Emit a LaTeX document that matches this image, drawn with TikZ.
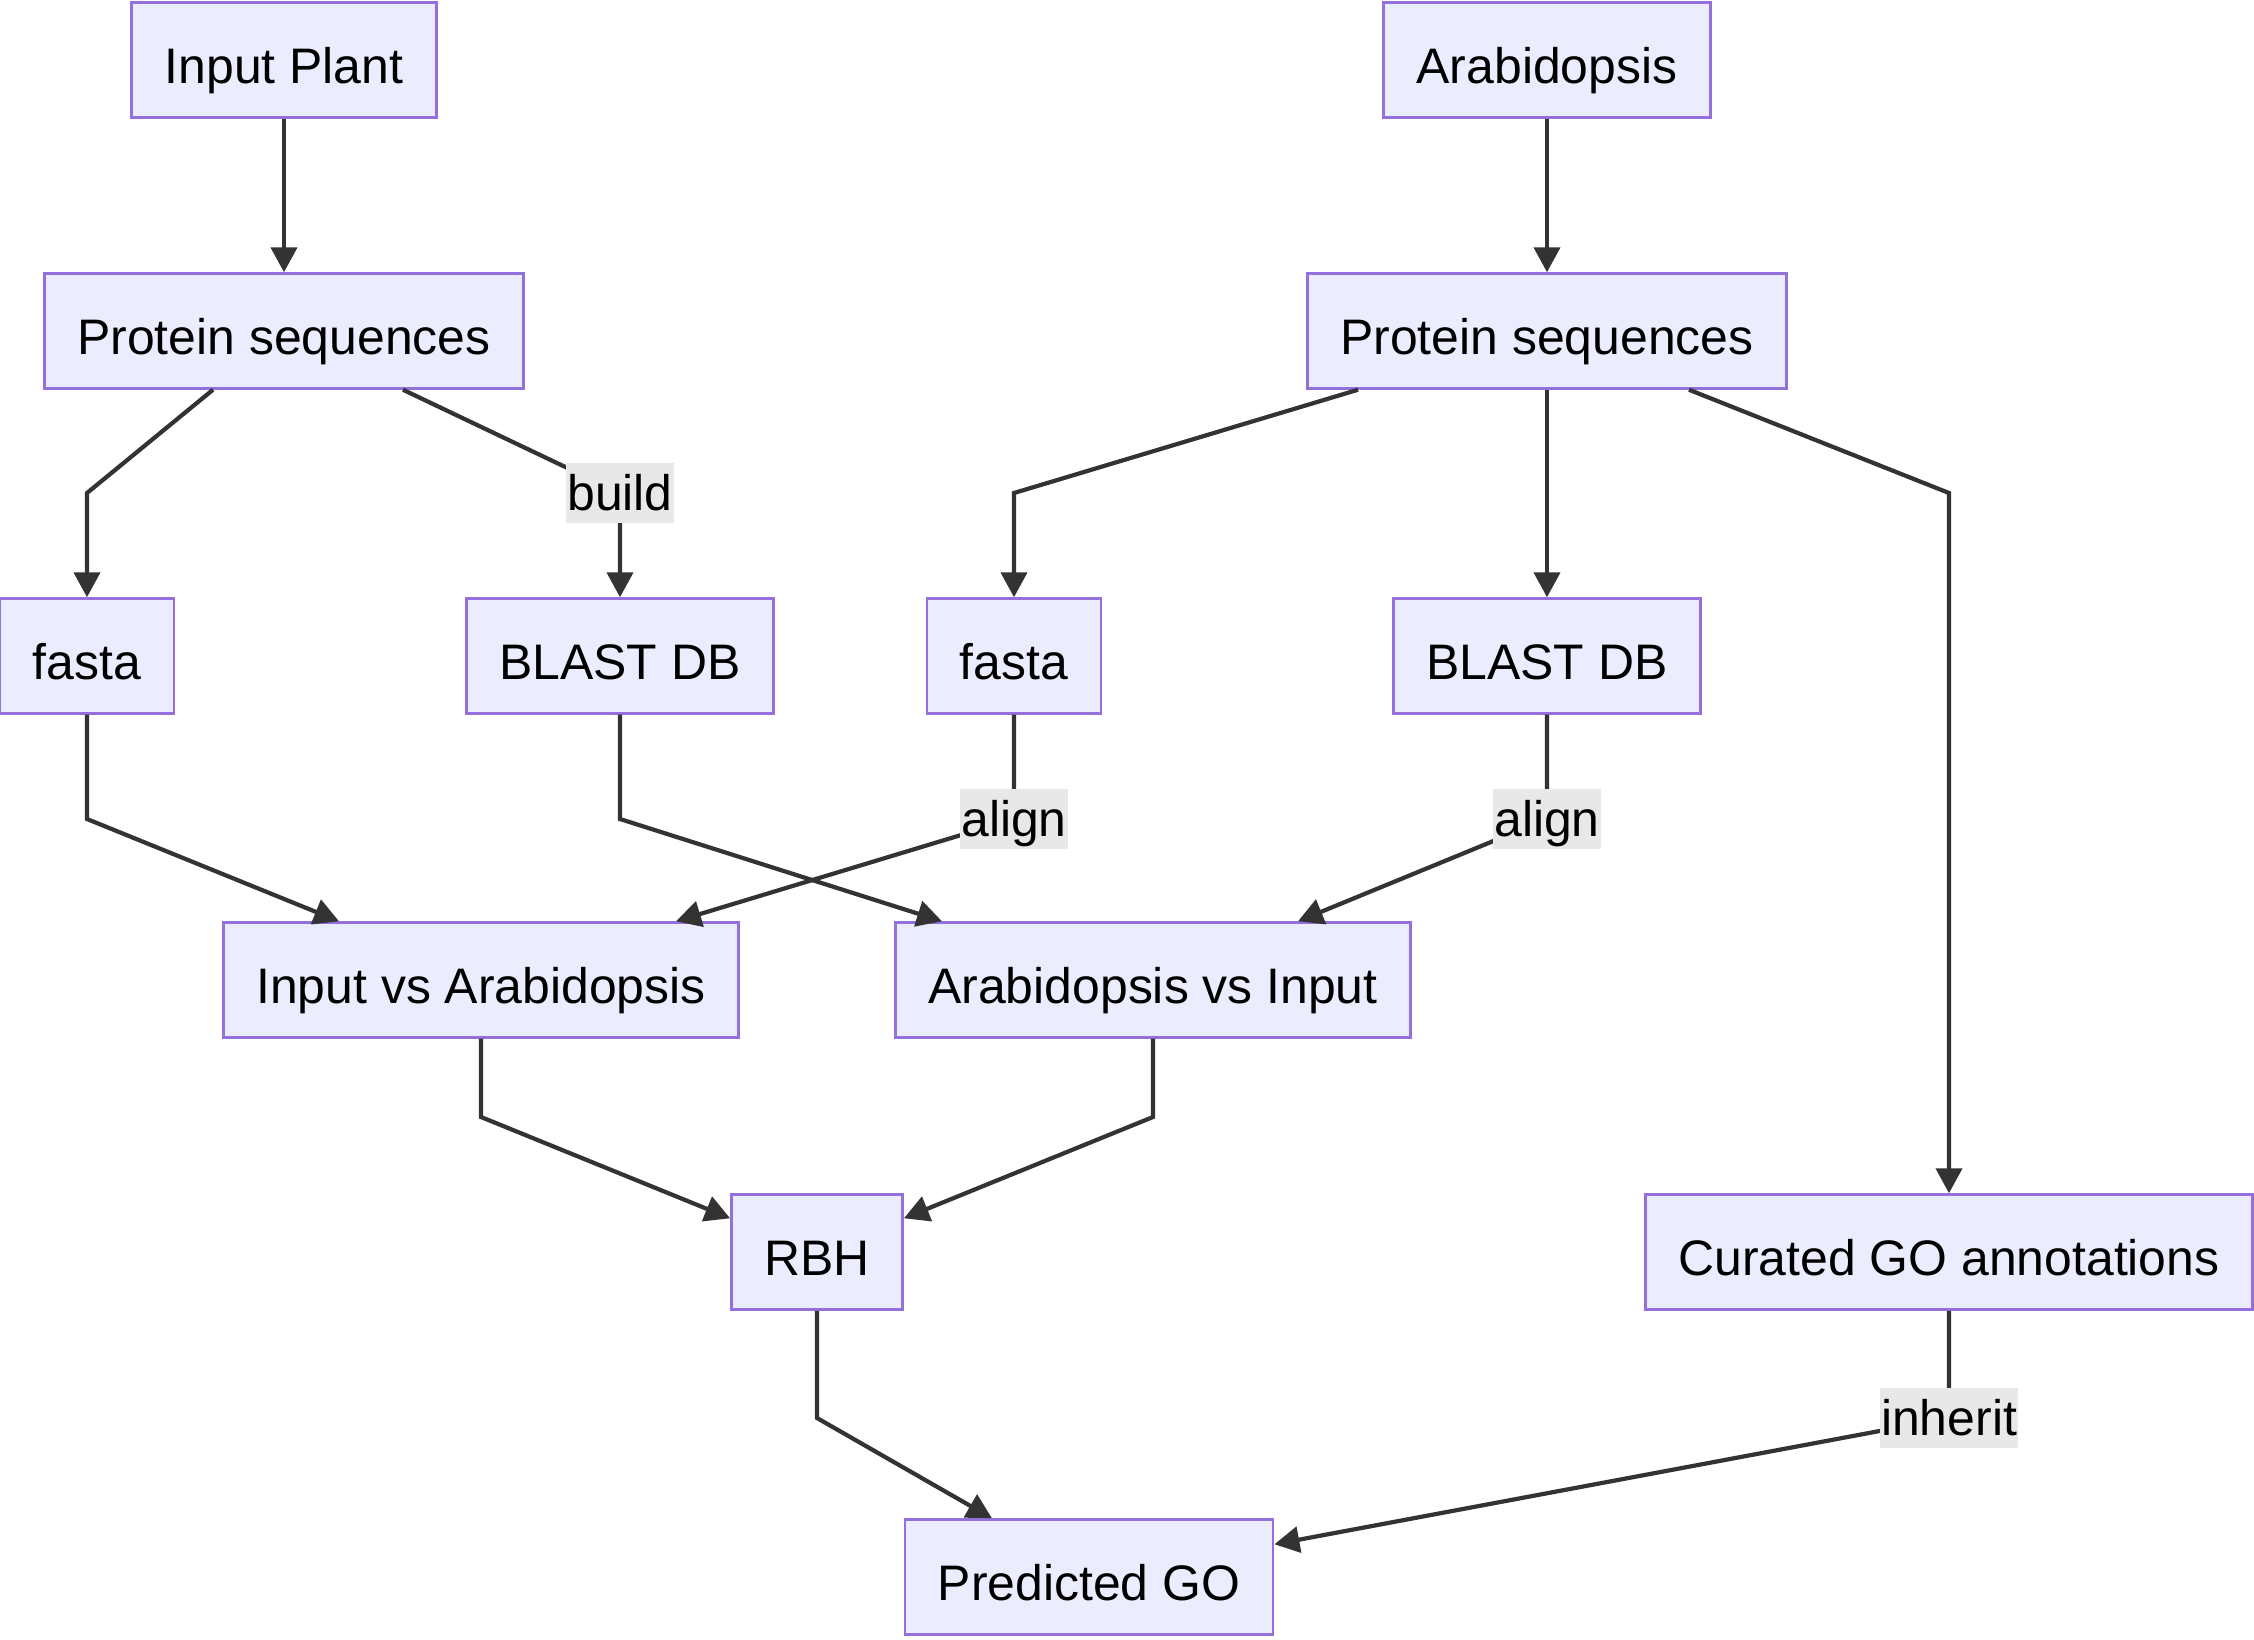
\documentclass[tikz,border=0pt]{standalone}
\usepackage{fontspec}
\setmainfont{Liberation Sans}
\usepackage{tikz}
\usetikzlibrary{arrows.meta}
\definecolor{mmfill}{HTML}{ECECFF}
\definecolor{mmborder}{HTML}{9370DB}
\definecolor{mmline}{HTML}{333333}
\definecolor{mmlabel}{HTML}{E8E8E8}

\begin{document}
\begin{tikzpicture}[
    box/.style={draw=mmborder, fill=mmfill, line width=0.7pt, minimum height=1.15cm, inner xsep=0.33cm, text height=0.52cm, text depth=0.06cm, font=\fontsize{14.2}{17}\selectfont},
    lbl/.style={fill=mmlabel, inner xsep=0.01cm, inner ysep=0.03cm, text height=0.44cm, text depth=0.1cm, font=\fontsize{14.2}{17}\selectfont},
    arr/.style={draw=mmline, line width=1.2pt, -{Triangle[length=0.25cm,width=0.26cm]}}
]
    \useasboundingbox (0,0) rectangle (22.54,-16.39);

    % Bend rows
    \coordinate (r1) at (0,-4.93);
    \coordinate (r2) at (0,-8.19);
    \coordinate (r3) at (0,-11.17);
    \coordinate (r4) at (0,-14.18);

    % Sources
    \node[box] (inplant) at (2.84,-0.60) {Input Plant};
    \node[box] (arab) at (15.47,-0.60) {Arabidopsis};
    \node[box] (protL) at (2.84,-3.31) {Protein sequences};
    \node[box] (protR) at (15.47,-3.31) {Protein sequences};

    % Inputs
    \node[box] (fastaL) at (0.87,-6.56) {fasta};
    \node[box] (blastL) at (6.20,-6.56) {BLAST DB};
    \node[box] (fastaR) at (10.14,-6.56) {fasta};
    \node[box] (blastR) at (15.47,-6.56) {BLAST DB};

    % Searches and results
    \node[box] (iva) at (4.81,-9.80) {Input vs Arabidopsis};
    \node[box] (avi) at (11.53,-9.80) {Arabidopsis vs Input};
    \node[box] (rbh) at (8.17,-12.52) {RBH};
    \node[box] (curated) at (19.49,-12.52) {Curated GO annotations};
    \node[box] (pred) at (10.89,-15.77) {Predicted GO};

    % Edges
    \draw[arr] (inplant) -- (protL);
    \draw[arr] (arab) -- (protR);
    \draw[arr] ([xshift=-0.71cm]protL.south) -- (fastaL |- r1) -- (fastaL);
    \draw[arr] ([xshift=1.19cm]protL.south) -- (blastL |- r1) -- (blastL);
    \draw[arr] ([xshift=-1.89cm]protR.south) -- (fastaR |- r1) -- (fastaR);
    \draw[arr] (protR) -- (blastR);
    \draw[arr] ([xshift=1.42cm]protR.south) -- (curated |- r1) -- (curated);
    \draw[arr] (fastaL) -- (fastaL |- r2) -- ([xshift=-1.42cm]iva.north);
    \draw[arr] (blastL) -- (blastL |- r2) -- ([xshift=-2.11cm]avi.north);
    \draw[arr] (fastaR) -- (fastaR |- r2) -- ([xshift=1.95cm]iva.north);
    \draw[arr] (blastR) -- (blastR |- r2) -- ([xshift=1.45cm]avi.north);
    \draw[arr] (iva) -- (iva |- r3) -- ([yshift=-0.25cm]rbh.north west);
    \draw[arr] (avi) -- (avi |- r3) -- ([yshift=-0.25cm]rbh.north east);
    \draw[arr] (rbh) -- (rbh |- r4) -- ([xshift=-0.97cm]pred.north);
    \draw[arr] (curated) -- (curated |- r4) -- ([yshift=-0.26cm]pred.north east);

    % Edge labels
    \node[lbl] (lbuild) at (blastL |- r1) {build};
    \node[lbl] (lalignL) at (fastaR |- r2) {align};
    \node[lbl] (lalignR) at (blastR |- r2) {align};
    \node[lbl] (linherit) at (curated |- r4) {inherit};
\end{tikzpicture}
\end{document}
